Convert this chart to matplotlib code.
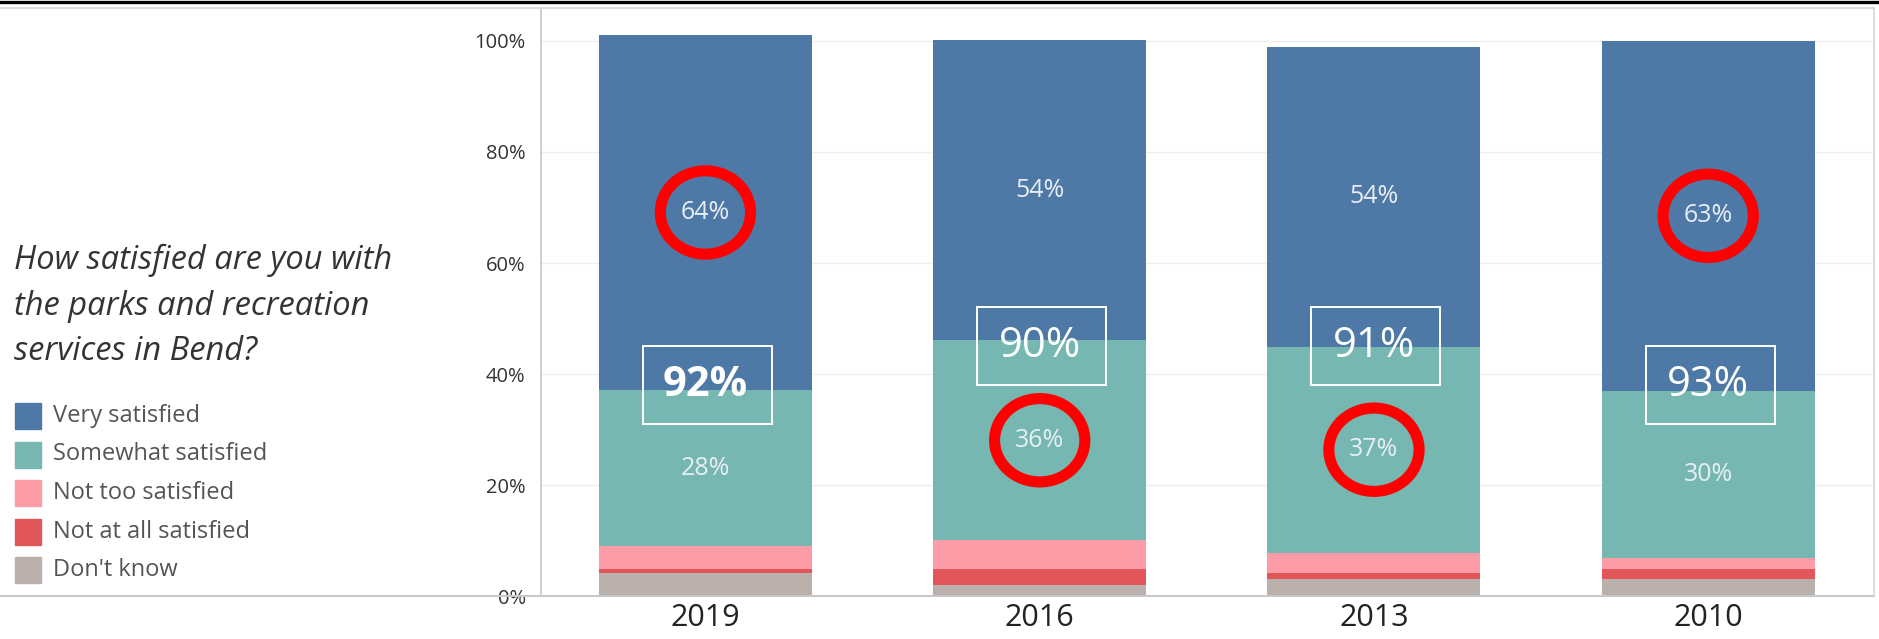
import matplotlib.pyplot as plt
from matplotlib.patches import Ellipse, Rectangle
from matplotlib.lines import Line2D
import numpy as np

# data
years = ['2019', '2016', '2013', '2010']
dont_know = [4.2, 2.1, 3.1, 3.1]
not_at_all = [0.7, 2.8, 1.1, 1.8]
not_too = [4.2, 5.2, 3.7, 2.1]
somewhat = [28, 36, 37, 30]
very = [64, 54, 54, 63]
totals = [92, 90, 91, 93]
circled = ['Very satisfied', 'Somewhat satisfied', 'Somewhat satisfied', 'Very satisfied']

series = [
    ("Don't know", dont_know, '#bab0ac'),
    ('Not at all satisfied', not_at_all, '#e15759'),
    ('Not too satisfied', not_too, '#fc9ca6'),
    ('Somewhat satisfied', somewhat, '#76b7b2'),
    ('Very satisfied', very, '#4e79a7'),
]
legend_order = ['Very satisfied', 'Somewhat satisfied', 'Not too satisfied',
                'Not at all satisfied', "Don't know"]

# vertical centre of the white boxes (annotation layout)
box_y = [38.0, 45.1, 45.1, 38.0]

W, H = 1879, 639
fig = plt.figure(figsize=(W / 100, H / 100), dpi=100)
ax = fig.add_axes([541 / W, 1 - 596.4 / H, (1874 - 541) / W, (596.4 - 8) / H])

x = np.arange(len(years))
bottom = np.zeros(len(years))
mids = {}
for name, vals, col in series:
    vals = np.array(vals, dtype=float)
    ax.bar(x, vals, bottom=bottom, width=0.637, color=col, zorder=2)
    mids[name] = bottom + vals / 2
    if name in ('Somewhat satisfied', 'Very satisfied'):
        for i, v in enumerate(vals):
            ax.text(x[i], bottom[i] + v / 2, f'{v:.0f}%', ha='center', va='center',
                    color='#e8eef4', fontsize=18, family='Open Sans', zorder=4)
    bottom = bottom + vals

# red circles
for i, name in enumerate(circled):
    ax.add_patch(Ellipse((x[i], mids[name][i]), 0.27, 15.0, fill=False,
                         edgecolor='#ff0000', linewidth=8, zorder=5))

# white boxes with totals
for i, t in enumerate(totals):
    ax.add_patch(Rectangle((x[i] - 0.187, box_y[i] - 7.05), 0.386, 14.1, fill=False,
                           edgecolor='white', linewidth=1.4, zorder=5))
    ax.text(x[i], box_y[i], f'{t}%', ha='center', va='center', color='white',
            fontsize=30, family='Open Sans', fontweight='bold' if i == 0 else 'normal',
            zorder=6)

ax.set_xlim(-0.492, 3.496)
ax.set_ylim(0, 105.9)
ax.set_yticks([0, 20, 40, 60, 80, 100])
ax.set_yticklabels([f'{v}%' for v in [0, 20, 40, 60, 80, 100]], family='Open Sans',
                   fontsize=14.5, color='#333333')
ax.set_xticks(x)
ax.set_xticklabels(years, family='Open Sans', fontsize=22, color='#222222')
ax.tick_params(axis='y', length=0, pad=11)
ax.tick_params(axis='x', length=0, pad=5)
ax.grid(axis='y', color='#eeeeee', linewidth=1, zorder=0)
for s in ['top', 'right', 'bottom']:
    ax.spines[s].set_visible(False)
ax.spines['left'].set_color('#c8c8c8')
ax.spines['left'].set_linewidth(1.2)

# frame lines
fig.add_artist(Line2D([0, 1], [1 - 1.5 / H] * 2, color='black', linewidth=2.4))
fig.add_artist(Line2D([0, 1874 / W], [1 - 8 / H] * 2, color='#d6d6d6', linewidth=1.2))
fig.add_artist(Line2D([0, 1874 / W], [1 - 596.4 / H] * 2, color='#c8c8c8', linewidth=1.5))
fig.add_artist(Line2D([1874 / W] * 2, [1 - 8 / H, 1 - 596.4 / H], color='#d6d6d6', linewidth=1.2))

# question text
fig.text(14 / W, 1 - 306 / H, 'How satisfied are you with\nthe parks and recreation\nservices in Bend?',
         ha='left', va='center', fontsize=23.5, style='italic', family='Open Sans',
         color='#333333', linespacing=1.5)

# legend
colors = {n: c for n, _, c in series}
for k, name in enumerate(legend_order):
    yc = 416 + k * 38.5
    fig.add_artist(Rectangle((15 / W, 1 - (yc + 13) / H), 26 / W, 26 / H,
                             color=colors[name], transform=fig.transFigure))
    fig.text(53 / W, 1 - yc / H, name, ha='left', va='center', fontsize=17,
             family='Open Sans', color='#555555')

fig.savefig('out.png', dpi=100)
